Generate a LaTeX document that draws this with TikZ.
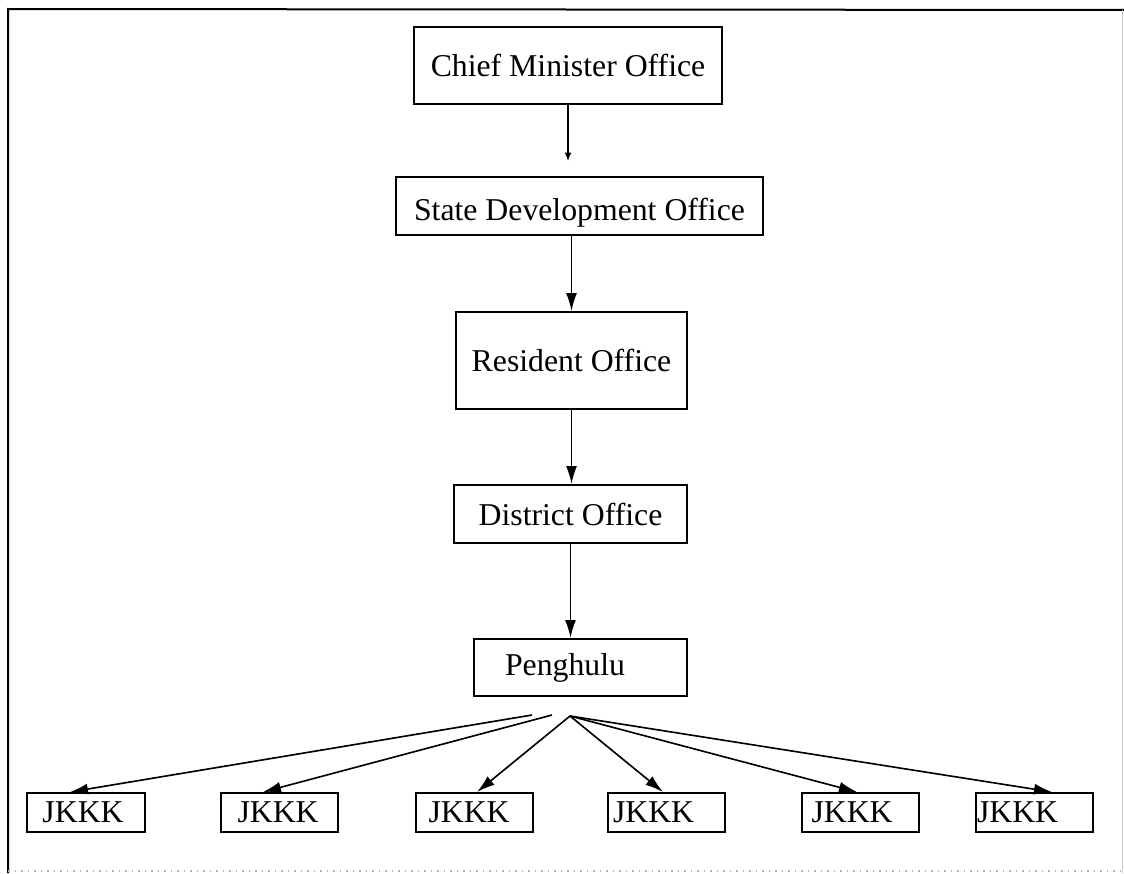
\documentclass[tikz,border=0pt]{standalone}
\usepackage{fontspec}
\setmainfont{Liberation Serif}
\usetikzlibrary{arrows.meta}

\tikzset{
  box/.style={draw, line width=0.8pt, inner sep=0pt, font=\fontsize{12.7}{15}\selectfont},
  jkkk/.style={box, minimum height=15.6pt, align=left},
  arr/.style={line width=0.65pt, -{Latex[length=7.2pt,width=4.4pt]}},
  arrsmall/.style={line width=0.5pt, -{Latex[length=3.4pt,width=2.8pt]}},
}

\begin{document}
\begin{tikzpicture}[x=0.4pt,y=-0.4pt]
\useasboundingbox (0,0) rectangle (1124,873);

\draw[line width=0.8pt] (8,873) -- (8,9) -- (1124,10);
\draw[gray!45, line width=0.4pt] (1122,10) -- (1122,873);
\draw[gray!60, dotted, line width=0.6pt] (8,871) -- (1124,871);

\node[box, minimum width=123.2pt, minimum height=30.8pt] (cmo) at (568,65.5) {Chief Minister Office};
\node[box, minimum width=146.8pt, minimum height=23.2pt, text height=14.3pt] (sdo) at (579.5,206) {State Development Office};
\node[box, minimum width=92.4pt, minimum height=38.8pt] (ro) at (571.5,360.5) {Resident Office};
\node[box, minimum width=93.2pt, minimum height=23.2pt] (do) at (570.5,514) {District Office};
\node[box, minimum height=22.8pt, inner xsep=12.4pt, text width=60.4pt, align=left] (pgh) at (580.5,667.5) {Penghulu};

\node[jkkk, inner xsep=6pt, text width=34.8pt] (j1) at (86,812.5) {JKKK};
\node[jkkk, inner xsep=6.8pt, text width=33.2pt] (j2) at (279,812.5) {JKKK};
\node[jkkk, inner xsep=5.2pt, text width=36.4pt] (j3) at (474,812.5) {JKKK};
\node[jkkk, inner xsep=2pt, text width=42.8pt] (j4) at (666.5,812.5) {JKKK};
\node[jkkk, inner xsep=4pt, text width=38.8pt] (j5) at (860,812.5) {JKKK};
\node[jkkk, inner xsep=0.4pt, text width=46pt] (j6) at (1034.5,812.5) {JKKK};

\draw[arrsmall, shorten >=6pt] (cmo.south) -- (cmo.south |- sdo.north);
\draw[arr] (ro.north |- sdo.south) -- (ro.north);
\draw[arr] (ro.south) -- (ro.south |- do.north);
\draw[arr] (do.south) -- (do.south |- pgh.north);

\coordinate (fl) at (532,715);
\coordinate (fm) at (552,715);
\coordinate (fr) at (570,716);
\draw[arr] (fl) -- ([xshift=-6.4pt]j1.north);
\draw[arr] (fm) -- ([xshift=-6.4pt]j2.north);
\draw[arr] (fr) -- ([xshift=1.2pt]j3.north);
\draw[arr] (fr) -- ([xshift=-1.4pt]j4.north);
\draw[arr] (fr) -- ([xshift=-1.2pt]j5.north);
\draw[arr] (fr) -- ([xshift=7pt]j6.north);
\end{tikzpicture}
\end{document}
